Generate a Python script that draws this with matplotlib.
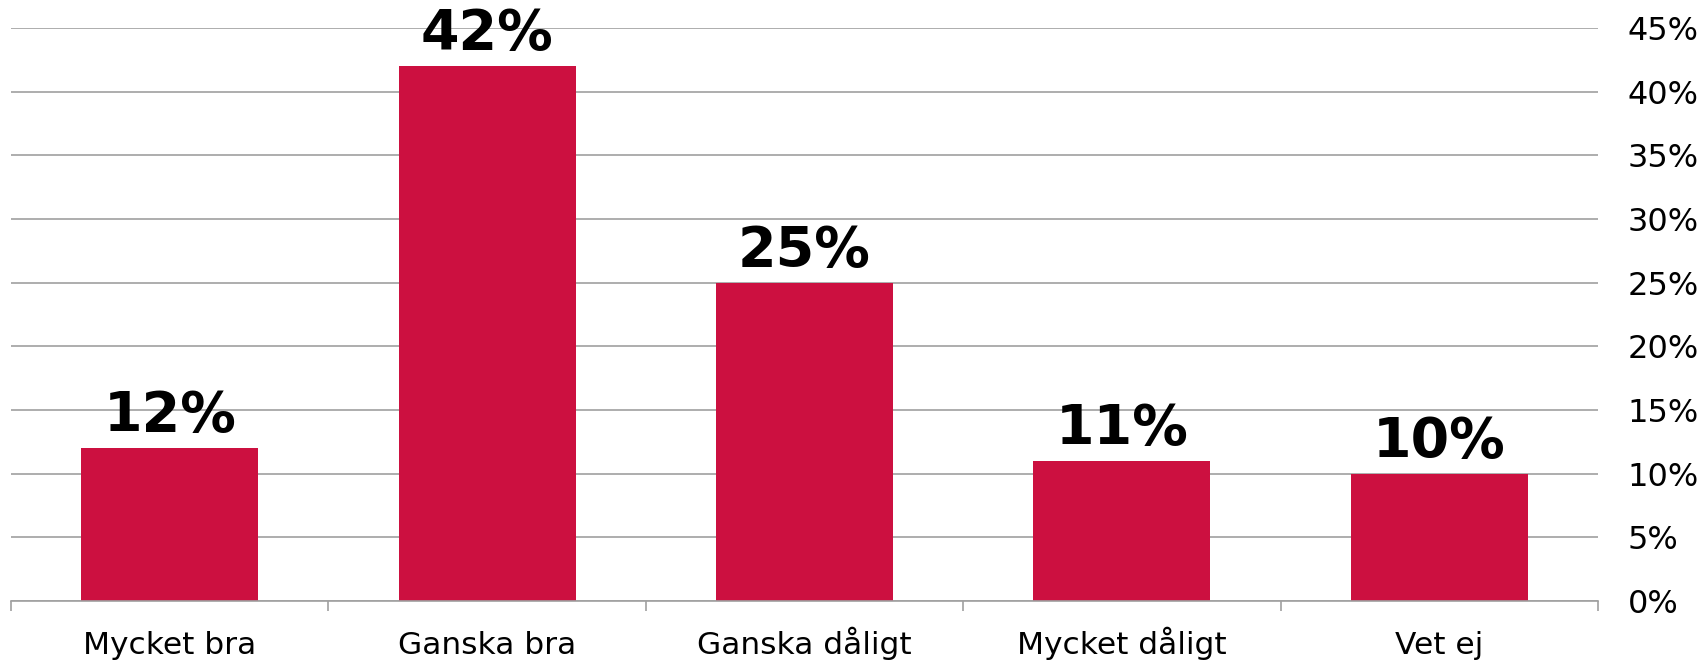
import matplotlib.pyplot as plt
from matplotlib.ticker import FuncFormatter

categories = ['Mycket bra', 'Ganska bra', 'Ganska dåligt', 'Mycket dåligt', 'Vet ej']
values = [12, 42, 25, 11, 10]
yticks = [0, 5, 10, 15, 20, 25, 30, 35, 40, 45]

W, H = 1705, 662
fig = plt.figure(figsize=(W / 100, H / 100), dpi=100)
ax = fig.add_axes([11 / W, 61 / H, (1598 - 11) / W, (601 - 28) / H])

x = range(len(categories))
ax.bar(x, values, width=0.558, color='#CC1040', zorder=2)

for i, v in enumerate(values):
    ax.annotate(f'{v}%', (i, v), xytext=(0, 17), textcoords='offset pixels',
                ha='center', va='baseline', fontsize=40, fontweight='bold')

ax.set_xlim(-0.5, len(categories) - 0.5)
ax.set_ylim(0, 45)
ax.set_yticks(yticks)
ax.yaxis.set_major_formatter(FuncFormatter(lambda v, p: f'{v:.0f}%'))
ax.yaxis.tick_right()
ax.tick_params(axis='y', length=0, pad=21.5, labelsize=23)
ax.grid(axis='y', color='#A0A0A0', linewidth=1.2, zorder=0)

# category labels centred on a common baseline, tick marks between categories
ax.set_xticks(list(x))
ax.set_xticklabels(categories, fontsize=22.5)
ax.tick_params(axis='x', length=0, pad=38.5)
for lab in ax.get_xticklabels():
    lab.set_verticalalignment('baseline')
ax.set_xticks([i - 0.5 for i in range(len(categories) + 1)], minor=True)
ax.tick_params(axis='x', which='minor', length=7, width=1.2, color='#A0A0A0')

for s in ['top', 'left', 'right']:
    ax.spines[s].set_visible(False)
ax.spines['bottom'].set_color('#A0A0A0')
ax.spines['bottom'].set_linewidth(1.2)

fig.savefig('out.png', dpi=100)
